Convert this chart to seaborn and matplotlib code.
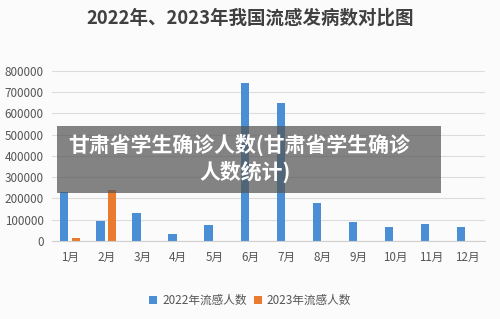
import pandas as pd
import matplotlib.pyplot as plt
import seaborn as sns
import numpy as np

months = ['1月', '2月', '3月', '4月', '5月', '6月', '7月', '8月', '9月', '10月', '11月', '12月']
flu_2022 = [230000, 95000, 130000, 31000, 74000, 744000, 647000, 178000, 89000, 66000, 78000, 66000]
flu_2023 = [15000, 240000, np.nan, np.nan, np.nan, np.nan, np.nan, np.nan, np.nan, np.nan, np.nan, np.nan]
series_names = ['2022年流感人数', '2023年流感人数']
y_ticks = [0, 100000, 200000, 300000, 400000, 500000, 600000, 700000, 800000]

df = pd.DataFrame({
    'month': months * 2,
    'value': flu_2022 + flu_2023,
    'series': [series_names[0]] * 12 + [series_names[1]] * 12,
})

sns.set_style('white')
plt.rcParams['font.family'] = ['Noto Sans CJK SC', 'DejaVu Sans']

fig = plt.figure(figsize=(5, 3.19), dpi=100, facecolor='#fbfbfc')
ax = fig.add_axes([0.104, 0.245, 0.866, 0.533])
ax.set_facecolor('#fbfbfc')

palette = {series_names[0]: '#4a8fd6', series_names[1]: '#ea7a2e'}
sns.barplot(data=df, x='month', y='value', hue='series', order=months,
            hue_order=series_names, palette=palette, width=0.64, gap=0.28,
            saturation=1, linewidth=0, ax=ax)

ax.set_ylim(0, 800000)
ax.set_xlim(-0.5, 11.5)
ax.set_yticks(y_ticks)
ax.set_yticklabels([str(v) for v in y_ticks])
ax.yaxis.grid(True, color='#dcdcdc', linewidth=0.8)
ax.set_axisbelow(True)
ax.set_xlabel('')
ax.set_ylabel('')
for s in ['top', 'right', 'left']:
    ax.spines[s].set_visible(False)
ax.spines['bottom'].set_color('#d0d0d0')
ax.tick_params(axis='both', length=0, labelsize=8.4, labelcolor='#555555')
ax.tick_params(axis='x', pad=7)
ax.tick_params(axis='y', pad=6)

handles, labels = ax.get_legend_handles_labels()
ax.legend_.remove()
fig.legend(handles, labels, loc='center', bbox_to_anchor=(0.5, 0.057), ncol=2,
           frameon=False, fontsize=8.4, handlelength=0.7, handleheight=0.7,
           handletextpad=0.4, columnspacing=0.6, labelcolor='#555555')

fig.text(0.5, 0.943, '2022年、2023年我国流感发病数对比图', ha='center', va='center',
         fontsize=13.3, fontweight='bold', color='#404040')

# grey overlay banner
fig.patches.append(plt.Rectangle((0.114, 0.395), 0.768, 0.21, transform=fig.transFigure,
                                 facecolor='#555555', alpha=0.72, edgecolor='none'))
fig.text(0.136, 0.545, '甘肃省学生确诊人数(甘肃省学生确诊', ha='left', va='center',
         fontsize=15, fontweight='bold', color='white')
fig.text(0.49, 0.461, '人数统计)', ha='center', va='center',
         fontsize=15, fontweight='bold', color='white')

fig.savefig('out.png', dpi=100, facecolor=fig.get_facecolor())
